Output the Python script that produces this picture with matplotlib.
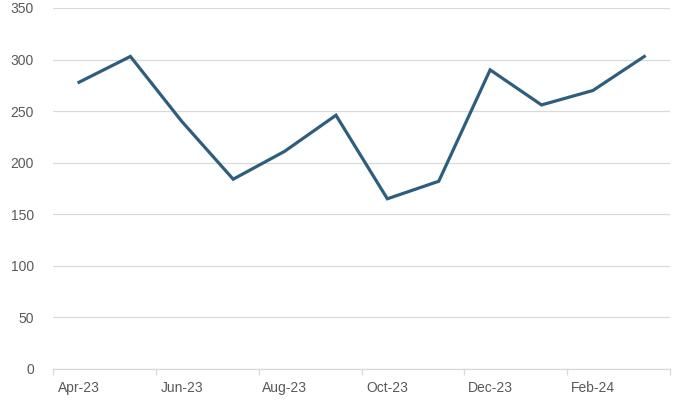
import numpy as np
import matplotlib.pyplot as plt

months = ['Apr-23', 'May-23', 'Jun-23', 'Jul-23', 'Aug-23', 'Sep-23',
          'Oct-23', 'Nov-23', 'Dec-23', 'Jan-24', 'Feb-24', 'Mar-24']
values = [278, 303, 240, 184, 211, 246, 165, 182, 290, 256, 270, 303]
y_ticks = [0, 50, 100, 150, 200, 250, 300, 350]

plt.rcParams['font.family'] = ['Liberation Sans', 'DejaVu Sans']

fig = plt.figure(figsize=(6.9, 4.07), dpi=100)
ax = fig.add_axes([0.0773, 0.0934, 0.8937, 0.8870])

x = np.arange(len(months))
ax.plot(x, values, color='#2E5E7E', linewidth=2.3, solid_joinstyle='miter', zorder=3)

ax.set_xlim(-0.5, len(months) - 0.5)
ax.set_ylim(0, 350)
ax.set_yticks(y_ticks)
ax.yaxis.grid(True, color='#d9d9d9', linewidth=0.9)
ax.set_axisbelow(True)

# labels every other month, ticks on category boundaries
ax.set_xticks(x[::2])
ax.set_xticklabels(months[::2])
ax.tick_params(axis='x', length=0, pad=9, labelsize=10, labelcolor='#595959')
ax.set_xticks(np.arange(-0.5, len(months), 2), minor=True)
ax.tick_params(axis='x', which='minor', length=4, color='#d9d9d9', width=0.9)
ax.tick_params(axis='y', length=0, pad=14, labelsize=10, labelcolor='#595959')

for side in ['top', 'right', 'left']:
    ax.spines[side].set_visible(False)
ax.spines['bottom'].set_color('#d9d9d9')
ax.spines['bottom'].set_linewidth(0.9)

fig.savefig('out.png', dpi=100)
